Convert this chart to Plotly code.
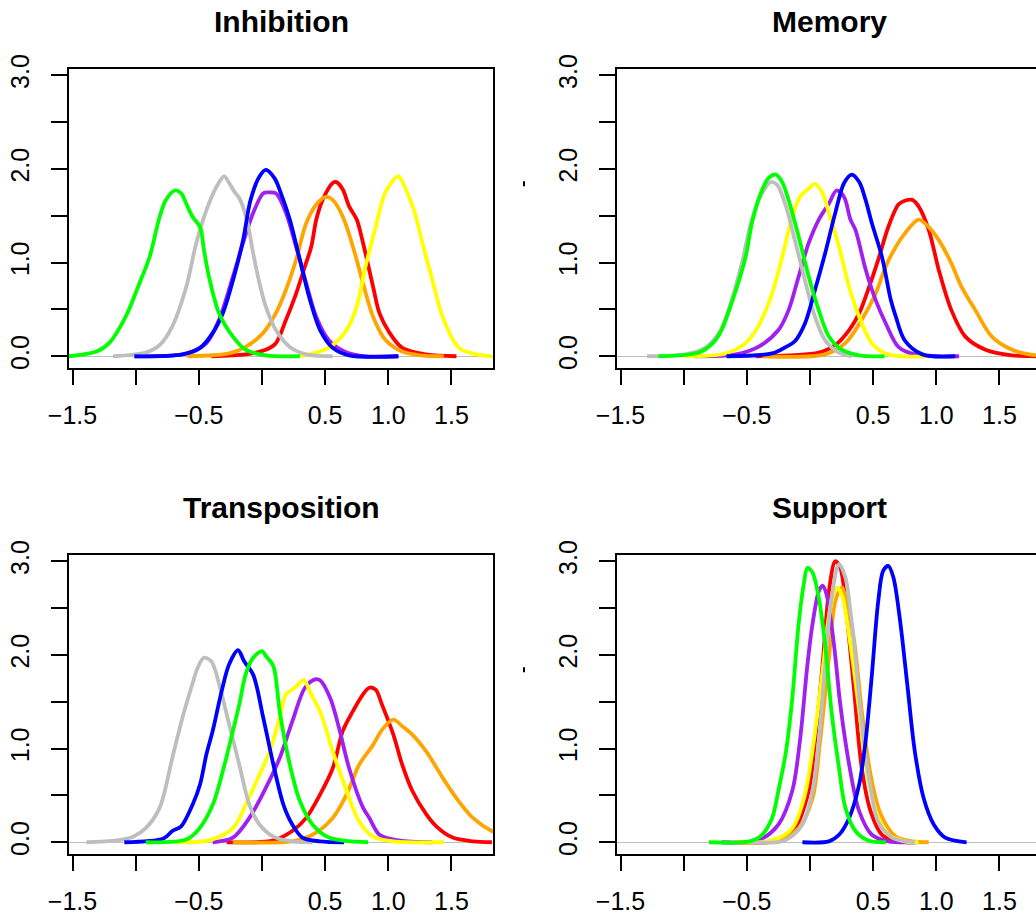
import plotly.graph_objects as go

# ---------------- panel titles and axis ticks ----------------
titles = ["Inhibition", "Memory", "Transposition", "Support"]
x_tick_vals = [-1.5, -1.0, -0.5, 0.0, 0.5, 1.0, 1.5]
x_tick_text = ["\u22121.5", "", "\u22120.5", "", "0.5", "1.0", "1.5"]
y_tick_vals = [0.0, 0.5, 1.0, 1.5, 2.0, 2.5, 3.0]
y_tick_text = ["0.0", "", "1.0", "", "2.0", "", "3.0"]

series_names = ["red", "orange", "purple", "yellow", "gray", "blue", "green"]
series_colors = {
    "red": "#FF0000", "orange": "#FFA500", "purple": "#A020F0",
    "yellow": "#FFFF00", "gray": "#BEBEBE", "blue": "#0000FF", "green": "#00FF00",
}

# ---------------- Inhibition densities ----------------
inh_red_x = [-0.40, -0.13, 0.03, 0.11, 0.19, 0.27, 0.34, 0.39, 0.43, 0.48, 0.56, 0.59, 0.64, 0.69, 0.75, 0.80, 0.88, 0.93, 1.01, 1.11, 1.30, 1.54]
inh_red_y = [0.0, 0.02, 0.07, 0.14, 0.39, 0.67, 0.96, 1.17, 1.46, 1.67, 1.85, 1.86, 1.78, 1.60, 1.46, 1.21, 0.74, 0.46, 0.25, 0.09, 0.02, 0.0]
inh_orange_x = [-0.59, -0.26, -0.13, 0.01, 0.11, 0.19, 0.27, 0.35, 0.43, 0.50, 0.56, 0.64, 0.72, 0.80, 0.88, 0.98, 1.11, 1.25, 1.44]
inh_orange_y = [0.0, 0.03, 0.10, 0.25, 0.46, 0.71, 1.03, 1.42, 1.62, 1.70, 1.67, 1.49, 1.17, 0.78, 0.42, 0.17, 0.05, 0.01, 0.0]
inh_purple_x = [-1.01, -0.60, -0.44, -0.34, -0.23, -0.15, -0.07, 0.01, 0.05, 0.11, 0.19, 0.27, 0.35, 0.43, 0.53, 0.67, 0.82, 1.08]
inh_purple_y = [0.0, 0.03, 0.14, 0.39, 0.85, 1.21, 1.53, 1.74, 1.75, 1.74, 1.53, 1.17, 0.78, 0.42, 0.17, 0.04, 0.0, 0.0]
inh_yellow_x = [0.30, 0.46, 0.56, 0.67, 0.75, 0.82, 0.90, 0.98, 1.08, 1.13, 1.21, 1.27, 1.35, 1.43, 1.56, 1.70, 1.82]
inh_yellow_y = [0.0, 0.05, 0.12, 0.28, 0.53, 0.96, 1.38, 1.76, 1.92, 1.81, 1.53, 1.21, 0.81, 0.42, 0.09, 0.02, 0.0]
inh_gray_x = [-1.18, -0.92, -0.81, -0.71, -0.60, -0.52, -0.44, -0.36, -0.30, -0.26, -0.22, -0.18, -0.12, -0.07, -0.02, 0.03, 0.11, 0.22, 0.35, 0.56]
inh_gray_y = [0.0, 0.04, 0.12, 0.32, 0.74, 1.21, 1.56, 1.81, 1.92, 1.85, 1.76, 1.69, 1.46, 1.10, 0.78, 0.53, 0.28, 0.10, 0.02, 0.0]
inh_blue_x = [-1.01, -0.63, -0.49, -0.39, -0.31, -0.23, -0.15, -0.09, -0.02, 0.03, 0.10, 0.15, 0.22, 0.30, 0.38, 0.46, 0.56, 0.69, 1.08]
inh_blue_y = [0.0, 0.02, 0.09, 0.25, 0.46, 0.81, 1.24, 1.67, 1.92, 1.99, 1.90, 1.74, 1.46, 1.03, 0.60, 0.28, 0.09, 0.01, 0.0]
inh_green_x = [-1.53, -1.31, -1.21, -1.08, -0.97, -0.89, -0.81, -0.76, -0.69, -0.64, -0.59, -0.55, -0.49, -0.46, -0.42, -0.34, -0.23, -0.13, 0.03, 0.30]
inh_green_y = [0.0, 0.05, 0.14, 0.42, 0.78, 1.06, 1.49, 1.67, 1.77, 1.74, 1.60, 1.49, 1.38, 1.14, 0.85, 0.46, 0.21, 0.07, 0.01, 0.0]

# ---------------- Memory densities ----------------
mem_red_x = [-0.43, 0.07, 0.20, 0.31, 0.39, 0.46, 0.54, 0.62, 0.70, 0.75, 0.81, 0.86, 0.94, 1.02, 1.12, 1.23, 1.39, 1.60, 1.79, 1.90]
mem_red_y = [0.0, 0.04, 0.12, 0.28, 0.46, 0.71, 1.03, 1.38, 1.62, 1.66, 1.67, 1.60, 1.35, 0.92, 0.49, 0.21, 0.07, 0.01, 0.0, 0.0]
mem_orange_x = [-0.38, 0.12, 0.28, 0.41, 0.52, 0.60, 0.68, 0.75, 0.86, 0.94, 1.02, 1.12, 1.20, 1.31, 1.44, 1.60, 1.79, 1.95]
mem_orange_y = [0.0, 0.02, 0.14, 0.39, 0.67, 0.96, 1.17, 1.31, 1.46, 1.38, 1.24, 0.99, 0.74, 0.49, 0.21, 0.07, 0.01, 0.0]
mem_purple_x = [-0.91, -0.59, -0.41, -0.25, -0.17, -0.09, -0.01, 0.07, 0.15, 0.21, 0.27, 0.32, 0.36, 0.44, 0.52, 0.60, 0.70, 0.83, 1.18]
mem_purple_y = [0.0, 0.02, 0.10, 0.28, 0.49, 0.85, 1.21, 1.46, 1.63, 1.77, 1.70, 1.46, 1.35, 0.93, 0.60, 0.35, 0.10, 0.02, 0.0]
mem_yellow_x = [-0.99, -0.67, -0.51, -0.41, -0.30, -0.22, -0.14, -0.08, -0.02, 0.04, 0.10, 0.15, 0.23, 0.31, 0.39, 0.49, 0.62, 0.93]
mem_yellow_y = [0.0, 0.03, 0.14, 0.32, 0.67, 1.06, 1.49, 1.70, 1.78, 1.84, 1.74, 1.53, 1.17, 0.74, 0.42, 0.14, 0.02, 0.0]
mem_gray_x = [-1.29, -0.99, -0.83, -0.72, -0.62, -0.54, -0.46, -0.38, -0.31, -0.26, -0.19, -0.12, -0.04, 0.04, 0.12, 0.23, 0.33]
mem_gray_y = [0.0, 0.02, 0.09, 0.25, 0.60, 0.99, 1.46, 1.74, 1.86, 1.83, 1.60, 1.24, 0.81, 0.42, 0.17, 0.04, 0.0]
mem_blue_x = [-0.66, -0.30, -0.19, -0.12, -0.04, 0.04, 0.12, 0.20, 0.27, 0.33, 0.39, 0.44, 0.49, 0.57, 0.64, 0.68, 0.75, 0.89, 1.15]
mem_blue_y = [0.0, 0.03, 0.10, 0.16, 0.35, 0.71, 1.10, 1.53, 1.85, 1.94, 1.86, 1.67, 1.42, 1.06, 0.60, 0.42, 0.17, 0.02, 0.0]
mem_green_x = [-1.20, -0.88, -0.77, -0.70, -0.62, -0.51, -0.46, -0.39, -0.33, -0.27, -0.22, -0.17, -0.09, -0.01, 0.07, 0.15, 0.25, 0.39, 0.59]
mem_green_y = [0.0, 0.04, 0.14, 0.28, 0.57, 1.06, 1.42, 1.74, 1.90, 1.94, 1.86, 1.67, 1.28, 0.85, 0.49, 0.21, 0.07, 0.01, 0.0]

# ---------------- Transposition densities ----------------
tra_red_x = [-0.28, 0.09, 0.24, 0.35, 0.46, 0.56, 0.64, 0.72, 0.80, 0.85, 0.90, 0.95, 1.04, 1.11, 1.19, 1.30, 1.38, 1.51, 1.67, 1.82]
tra_red_y = [0.0, 0.02, 0.12, 0.26, 0.51, 0.79, 1.19, 1.40, 1.58, 1.65, 1.63, 1.47, 1.15, 0.83, 0.55, 0.30, 0.17, 0.05, 0.01, 0.0]
tra_orange_x = [-0.23, 0.24, 0.40, 0.56, 0.67, 0.77, 0.88, 0.95, 1.04, 1.11, 1.19, 1.30, 1.43, 1.54, 1.67, 1.82, 1.95]
tra_orange_y = [0.0, 0.01, 0.08, 0.26, 0.51, 0.83, 1.04, 1.20, 1.31, 1.24, 1.15, 0.97, 0.69, 0.47, 0.26, 0.12, 0.06]
tra_purple_x = [-0.39, -0.23, -0.10, 0.03, 0.14, 0.24, 0.34, 0.42, 0.46, 0.54, 0.61, 0.69, 0.80, 0.85, 0.93, 1.08, 1.35]
tra_purple_y = [0.0, 0.05, 0.26, 0.58, 0.90, 1.29, 1.65, 1.74, 1.73, 1.54, 1.22, 0.79, 0.37, 0.26, 0.08, 0.02, 0.0]
tra_yellow_x = [-0.68, -0.42, -0.23, -0.13, -0.02, 0.06, 0.14, 0.19, 0.26, 0.33, 0.39, 0.47, 0.56, 0.67, 0.77, 0.88, 1.04, 1.44]
tra_yellow_y = [0.0, 0.02, 0.15, 0.40, 0.72, 0.97, 1.33, 1.58, 1.65, 1.73, 1.58, 1.36, 0.97, 0.55, 0.22, 0.06, 0.01, 0.0]
tra_gray_x = [-1.39, -1.15, -1.02, -0.92, -0.81, -0.71, -0.63, -0.56, -0.51, -0.46, -0.40, -0.34, -0.26, -0.18, -0.10, -0.02, 0.09, 0.24, 0.40]
tra_gray_y = [0.0, 0.02, 0.06, 0.15, 0.37, 0.90, 1.33, 1.65, 1.86, 1.97, 1.93, 1.69, 1.26, 0.83, 0.40, 0.19, 0.06, 0.01, 0.0]
tra_blue_x = [-1.09, -0.78, -0.71, -0.64, -0.55, -0.49, -0.44, -0.39, -0.32, -0.26, -0.19, -0.14, -0.07, 0.01, 0.09, 0.17, 0.24, 0.32, 0.46, 0.65]
tra_blue_y = [0.0, 0.04, 0.12, 0.17, 0.40, 0.62, 0.94, 1.19, 1.61, 1.90, 2.05, 1.93, 1.79, 1.33, 0.83, 0.40, 0.19, 0.05, 0.01, 0.0]
tra_green_x = [-0.92, -0.60, -0.50, -0.39, -0.31, -0.23, -0.18, -0.13, -0.07, 0.00, 0.03, 0.09, 0.14, 0.22, 0.30, 0.40, 0.53, 0.84]
tra_green_y = [0.0, 0.03, 0.14, 0.40, 0.76, 1.19, 1.47, 1.79, 1.97, 2.04, 1.99, 1.88, 1.40, 0.83, 0.44, 0.19, 0.05, 0.0]

# ---------------- Support densities ----------------
sup_red_x = [-0.59, -0.25, -0.12, -0.01, 0.04, 0.10, 0.15, 0.20, 0.24, 0.29, 0.35, 0.41, 0.48, 0.57, 0.70, 0.86]
sup_red_y = [0.0, 0.02, 0.15, 0.55, 1.08, 1.90, 2.68, 3.00, 2.93, 2.43, 1.61, 0.79, 0.33, 0.08, 0.01, 0.0]
sup_orange_x = [-0.56, -0.25, -0.09, 0.02, 0.08, 0.15, 0.20, 0.25, 0.29, 0.35, 0.41, 0.48, 0.56, 0.68, 0.81, 0.94]
sup_orange_y = [0.0, 0.02, 0.15, 0.47, 1.08, 1.97, 2.57, 2.72, 2.57, 2.15, 1.40, 0.72, 0.30, 0.06, 0.01, 0.0]
sup_purple_x = [-0.70, -0.41, -0.25, -0.14, -0.08, -0.02, 0.02, 0.07, 0.10, 0.13, 0.19, 0.24, 0.31, 0.39, 0.49, 0.62, 0.83]
sup_purple_y = [0.0, 0.02, 0.19, 0.55, 1.08, 1.90, 2.33, 2.68, 2.74, 2.65, 2.11, 1.47, 0.83, 0.33, 0.08, 0.01, 0.0]
sup_yellow_x = [-0.59, -0.30, -0.14, -0.04, 0.03, 0.10, 0.16, 0.21, 0.25, 0.32, 0.39, 0.45, 0.53, 0.62, 0.75, 0.86]
sup_yellow_y = [0.0, 0.02, 0.15, 0.51, 1.08, 1.83, 2.50, 2.72, 2.65, 2.11, 1.40, 0.76, 0.30, 0.08, 0.01, 0.0]
sup_gray_x = [-0.48, -0.20, -0.06, 0.02, 0.07, 0.12, 0.17, 0.23, 0.28, 0.32, 0.36, 0.41, 0.48, 0.54, 0.65, 0.83]
sup_gray_y = [0.0, 0.02, 0.19, 0.55, 1.08, 1.90, 2.60, 2.97, 2.83, 2.47, 1.97, 1.26, 0.58, 0.22, 0.05, 0.0]
sup_blue_x = [-0.06, 0.15, 0.23, 0.31, 0.39, 0.44, 0.49, 0.54, 0.58, 0.62, 0.66, 0.71, 0.77, 0.83, 0.90, 0.98, 1.07, 1.24]
sup_blue_y = [0.0, 0.01, 0.08, 0.26, 0.62, 1.08, 1.79, 2.57, 2.90, 2.95, 2.83, 2.40, 1.69, 0.97, 0.47, 0.19, 0.05, 0.0]
sup_green_x = [-0.80, -0.48, -0.38, -0.30, -0.25, -0.19, -0.14, -0.09, -0.05, -0.02, 0.02, 0.07, 0.12, 0.17, 0.23, 0.28, 0.36, 0.46, 0.60]
sup_green_y = [0.0, 0.01, 0.08, 0.26, 0.55, 0.97, 1.54, 2.33, 2.75, 2.93, 2.88, 2.61, 2.11, 1.40, 0.79, 0.37, 0.12, 0.02, 0.0]

panels = [
    {"red": (inh_red_x, inh_red_y), "orange": (inh_orange_x, inh_orange_y),
     "purple": (inh_purple_x, inh_purple_y), "yellow": (inh_yellow_x, inh_yellow_y),
     "gray": (inh_gray_x, inh_gray_y), "blue": (inh_blue_x, inh_blue_y),
     "green": (inh_green_x, inh_green_y)},
    {"red": (mem_red_x, mem_red_y), "orange": (mem_orange_x, mem_orange_y),
     "purple": (mem_purple_x, mem_purple_y), "yellow": (mem_yellow_x, mem_yellow_y),
     "gray": (mem_gray_x, mem_gray_y), "blue": (mem_blue_x, mem_blue_y),
     "green": (mem_green_x, mem_green_y)},
    {"red": (tra_red_x, tra_red_y), "orange": (tra_orange_x, tra_orange_y),
     "purple": (tra_purple_x, tra_purple_y), "yellow": (tra_yellow_x, tra_yellow_y),
     "gray": (tra_gray_x, tra_gray_y), "blue": (tra_blue_x, tra_blue_y),
     "green": (tra_green_x, tra_green_y)},
    {"red": (sup_red_x, sup_red_y), "orange": (sup_orange_x, sup_orange_y),
     "purple": (sup_purple_x, sup_purple_y), "yellow": (sup_yellow_x, sup_yellow_y),
     "gray": (sup_gray_x, sup_gray_y), "blue": (sup_blue_x, sup_blue_y),
     "green": (sup_green_x, sup_green_y)},
]

# ---------------- page geometry (pixels) ----------------
W, H = 1036, 916
FONT = "Liberation Sans, Arial, Helvetica, sans-serif"
# plot boxes: (left, right, top, bottom); right column runs past the page edge
boxes = [(69, 493, 69.3, 367.7), (617, 1041, 69.3, 367.7),
         (69, 493, 555.3, 853.7), (617, 1041, 555.3, 853.7)]
X_RANGE = (-1.528, 1.829)
Y_RANGE = (-0.122, 3.064)

fig = go.Figure()

for i, (panel, box) in enumerate(zip(panels, boxes)):
    n = "" if i == 0 else str(i + 1)
    left, right, top, bottom = box
    vis_right = min(right, W)
    frac = (vis_right - left) / (right - left)
    xr = [X_RANGE[0], X_RANGE[0] + frac * (X_RANGE[1] - X_RANGE[0])]
    for name in series_names:
        xs, ys = panel[name]
        fig.add_trace(go.Scatter(
            x=xs, y=ys, mode="lines", xaxis="x" + n, yaxis="y" + n,
            line=dict(color=series_colors[name], width=3.8, shape="spline", smoothing=0.9),
            showlegend=False, hoverinfo="skip", cliponaxis=True,
        ))
    clipped = right > W
    fig.layout["xaxis" + n] = dict(
        domain=[left / W, vis_right / W], range=xr, anchor="y" + n, automargin=False,
        showgrid=False, zeroline=False, showline=True, linecolor="black", linewidth=1.6,
        mirror=True, ticks="outside", ticklen=15, tickwidth=1.6, tickcolor="black",
        tickvals=x_tick_vals, ticktext=x_tick_text, ticklabelstandoff=9,
        tickfont=dict(family=FONT, size=25, color="black"),
    )
    fig.layout["yaxis" + n] = dict(
        domain=[1 - bottom / H, 1 - top / H], range=list(Y_RANGE), anchor="x" + n,
        automargin=False,
        showgrid=False, zeroline=True, zerolinecolor="#BEBEBE", zerolinewidth=1,
        showline=True, linecolor="black", linewidth=1.6, mirror=not clipped,
        ticks="outside", ticklen=16, tickwidth=1.6, tickcolor="black",
        tickvals=y_tick_vals, ticktext=y_tick_text, tickangle=-90, ticklabelstandoff=12,
        tickfont=dict(family=FONT, size=25, color="black"),
    )
    # panel title, centred over the full plot box
    fig.add_annotation(
        text="<b>" + titles[i] + "</b>", xref="paper", yref="paper",
        x=(left + right) / 2 / W, y=1 - (top - 48) / H,
        xanchor="center", yanchor="middle", showarrow=False,
        font=dict(family=FONT, size=30, color="black"),
    )
    if clipped:
        # stray y-label glyph left of the right-hand panels
        fig.add_shape(type="line", xref="paper", yref="paper",
                      x0=524 / W, x1=524 / W, y0=1 - (top + 112) / H, y1=1 - (top + 117) / H,
                      line=dict(color="black", width=2))

fig.update_layout(
    width=W, height=H, margin=dict(l=0, r=0, t=0, b=0),
    paper_bgcolor="white", plot_bgcolor="white",
    showlegend=False,
)

fig.write_html("out.html")
